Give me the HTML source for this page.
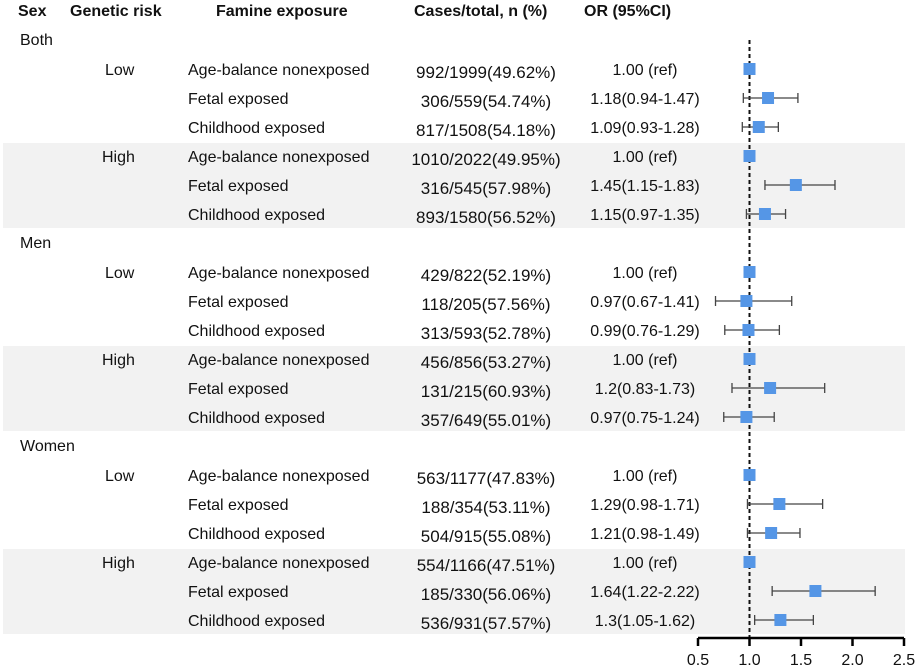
<!DOCTYPE html>
<html><head><meta charset="utf-8"><style>
body{margin:0;background:#fff;}
svg{display:block;font-family:"Liberation Sans",Arial,sans-serif;}
</style></head><body>
<svg id="c" width="918" height="670"></svg>
<script>
const sexes=["Both","Men","Women"];
const risks=["Low","High"];
const exposures=["Age-balance nonexposed","Fetal exposed","Childhood exposed"];
const cases=["992/1999(49.62%)","306/559(54.74%)","817/1508(54.18%)","1010/2022(49.95%)","316/545(57.98%)","893/1580(56.52%)",
"429/822(52.19%)","118/205(57.56%)","313/593(52.78%)","456/856(53.27%)","131/215(60.93%)","357/649(55.01%)",
"563/1177(47.83%)","188/354(53.11%)","504/915(55.08%)","554/1166(47.51%)","185/330(56.06%)","536/931(57.57%)"];
const orLabels=["1.00 (ref)","1.18(0.94-1.47)","1.09(0.93-1.28)","1.00 (ref)","1.45(1.15-1.83)","1.15(0.97-1.35)",
"1.00 (ref)","0.97(0.67-1.41)","0.99(0.76-1.29)","1.00 (ref)","1.2(0.83-1.73)","0.97(0.75-1.24)",
"1.00 (ref)","1.29(0.98-1.71)","1.21(0.98-1.49)","1.00 (ref)","1.64(1.22-2.22)","1.3(1.05-1.62)"];
const orVals=[1,1.18,1.09,1,1.45,1.15,1,0.97,0.99,1,1.2,0.97,1,1.29,1.21,1,1.64,1.3];
const loVals=[1,0.94,0.93,1,1.15,0.97,1,0.67,0.76,1,0.83,0.75,1,0.98,0.98,1,1.22,1.05];
const hiVals=[1,1.47,1.28,1,1.83,1.35,1,1.41,1.29,1,1.73,1.24,1,1.71,1.49,1,2.22,1.62];
const ticks=[0.5,1.0,1.5,2.0,2.5];
const NS="http://www.w3.org/2000/svg";
const svg=document.getElementById('c');
const xs=v=>698+(v-0.5)*103;
const rowY=i=>40+29*i;
function mk(t,a,p){const e=document.createElementNS(NS,t);for(const k in a)e.setAttribute(k,a[k]);(p||svg).appendChild(e);return e;}
function txt(x,y,s,o){o=o||{};const e=mk('text',{x:x,y:y,'font-size':o.fs||16,'text-anchor':o.a||'start','font-weight':o.w||'normal',fill:'#111'});e.textContent=s;return e;}
[["Sex",18],["Genetic risk",70],["Famine exposure",216],["Cases/total, n (%)",414],["OR (95%CI)",584]].forEach((h,i)=>{
 const t=txt(h[1],16,h[0],{w:'bold'});
 
 
});
let idx=0;
sexes.forEach((s,si)=>{
 const base=si*7;
 const h=txt(20,rowY(base)+5,s);
 
 
 risks.forEach((r,ri)=>{
  const r0=base+1+ri*3;
  if(ri===1){
   const b=mk('rect',{x:3,y:rowY(r0)-13,width:902,height:85,fill:'#f2f2f2'});
   
   
  }
  const rl=txt(ri?102:105,rowY(r0)+6,r);
  
  
  exposures.forEach((ex,ei)=>{
   const y=rowY(r0+ei);
   const e1=txt(188,y+6,ex);
   
   
   const e2=txt(486,y+9,cases[idx],{a:'middle',fs:17});
   
   
   const e3=txt(645,y+6,orLabels[idx],{a:'middle'});
   
   
   idx++;
  });
 });
});
const rl=mk('line',{x1:xs(1),x2:xs(1),y1:40,y2:638,stroke:'#111','stroke-width':2,'stroke-dasharray':'4,3'});


idx=0;
sexes.forEach((s,si)=>{risks.forEach((r,ri)=>{for(let ei=0;ei<3;ei++){
 const y=rowY(si*7+1+ri*3+ei);
 const i=idx++;
 if(hiVals[i]>loVals[i]){
  const g=mk('g',{stroke:'#444','stroke-width':1.3});
  
  
  mk('line',{x1:xs(loVals[i]),x2:xs(hiVals[i]),y1:y,y2:y},g);
  mk('line',{x1:xs(loVals[i]),x2:xs(loVals[i]),y1:y-5,y2:y+5},g);
  mk('line',{x1:xs(hiVals[i]),x2:xs(hiVals[i]),y1:y-5,y2:y+5},g);
 }
 const m=mk('rect',{x:xs(orVals[i])-6,y:y-6,width:12,height:12,fill:'#5596e6'});
 
 
}})});
const ax=mk('g',{stroke:'#000','stroke-width':2.5});


mk('line',{x1:xs(0.5),x2:xs(2.5),y1:638,y2:638},ax);
ticks.forEach(t=>{
 mk('line',{x1:xs(t),x2:xs(t),y1:638,y2:646},ax);
 const l=txt(xs(t),665,t.toFixed(1),{a:'middle',fs:16});
 
 
});
</script>
</body></html>
